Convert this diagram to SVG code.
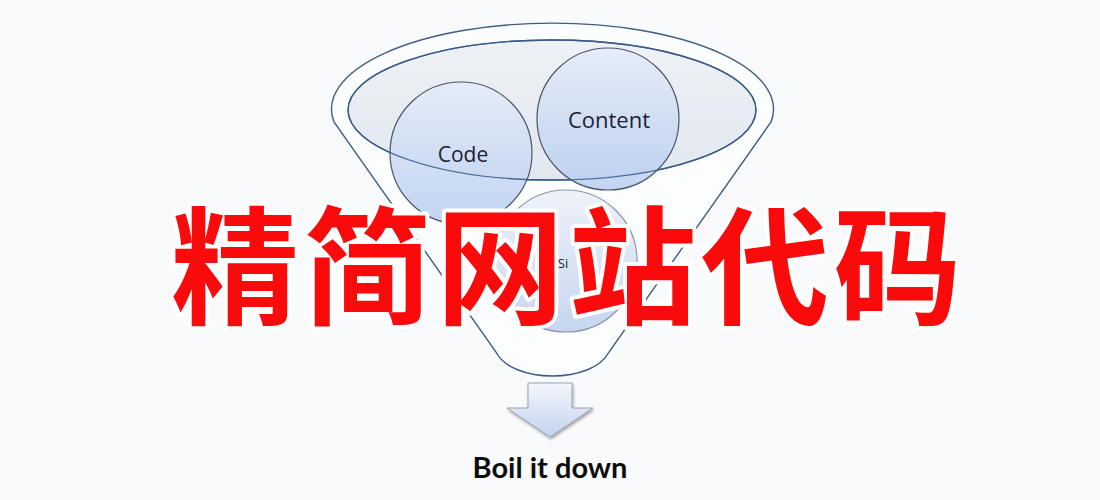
<svg xmlns="http://www.w3.org/2000/svg" width="1100" height="500" viewBox="0 0 1100 500">
  <defs>
    <linearGradient id="gCircle" x1="0" y1="0" x2="0" y2="1">
      <stop offset="0" stop-color="#e4ecf8"/>
      <stop offset="1" stop-color="#b7cdf0"/>
    </linearGradient>
    <linearGradient id="gCircle3" x1="0" y1="0" x2="0" y2="1">
      <stop offset="0" stop-color="#eef2f9"/>
      <stop offset="1" stop-color="#c6d6f0"/>
    </linearGradient>
    <linearGradient id="gEllipse" x1="0" y1="0" x2="0" y2="1">
      <stop offset="0" stop-color="#eef1f5"/>
      <stop offset="1" stop-color="#e2e7ef"/>
    </linearGradient>
    <linearGradient id="gArrow" x1="0" y1="0" x2="0" y2="1">
      <stop offset="0" stop-color="#f4f7fc"/>
      <stop offset="1" stop-color="#c3d3ee"/>
    </linearGradient>
    <filter id="shadow" x="-20%" y="-20%" width="140%" height="140%">
      <feGaussianBlur in="SourceAlpha" stdDeviation="1.5"/>
      <feOffset dx="1" dy="2" result="b"/>
      <feComponentTransfer><feFuncA type="linear" slope="0.35"/></feComponentTransfer>
      <feMerge><feMergeNode/><feMergeNode in="SourceGraphic"/></feMerge>
    </filter>
  </defs>
  <style>
    .circle { fill: url(#gCircle); fill-opacity: 0.85; stroke: #4b5566; stroke-width: 1.2; }
    .lbl { font-family: "Open Sans", "Liberation Sans", sans-serif; fill: #1c2236; text-anchor: middle; }
    .title { font-family: "Noto Sans CJK SC", "Noto Sans", sans-serif; font-weight: 700; font-size: 128px; letter-spacing: 4.5px; fill: #fa0a0a; stroke: #ffffff; stroke-width: 8; stroke-linejoin: round; paint-order: stroke; }
  </style>

  <rect width="1100" height="500" fill="#f9fafb"/>

  <g id="funnel">
    <path d="M 334,122 A 221 86 0 1 1 771,122 L 609,352 C 593,384 512,384 496,352 Z" fill="#fcfdfe" stroke="#3e5d86" stroke-width="1.4"/>
  </g>

  <g id="bowl">
    <ellipse cx="552" cy="110" rx="204" ry="70" fill="url(#gEllipse)" stroke="#3a5b87" stroke-width="1.4"/>
  </g>

  <g id="node-site">
    <circle cx="566" cy="261" r="71" fill="url(#gCircle3)" stroke="#8d96a3" stroke-width="1.2"/>
    <text class="lbl" x="563" y="268" font-size="13" text-anchor="start">Si</text>
  </g>

  <g id="node-code">
    <circle class="circle" cx="461" cy="153" r="71"/>
    <text class="lbl" x="463" y="162" font-size="21">Code</text>
  </g>

  <g id="node-content">
    <circle class="circle" cx="608" cy="119" r="71"/>
    <text class="lbl" x="609" y="128" font-size="22">Content</text>
  </g>

  <g id="bowl-rim">
    <ellipse cx="552" cy="110" rx="204" ry="70" fill="none" stroke="#3a5b87" stroke-width="1.3" stroke-opacity="0.85"/>
  </g>

  <g id="connectors">
    <path d="M 528,383 L 572,383 L 572,408 L 593,408 L 550,437 L 507,408 L 528,408 Z" fill="url(#gArrow)" stroke="#98a2ae" stroke-width="1" filter="url(#shadow)"/>
  </g>

  <g id="label-boil">
    <text x="550" y="478" font-family="Lato, 'Liberation Sans', sans-serif" font-weight="700" font-size="29" fill="#0d0d0d" text-anchor="middle">Boil it down</text>
  </g>

  <g id="title">
    <text class="title" x="171" y="315">精简网站代码</text>
  </g>
</svg>
